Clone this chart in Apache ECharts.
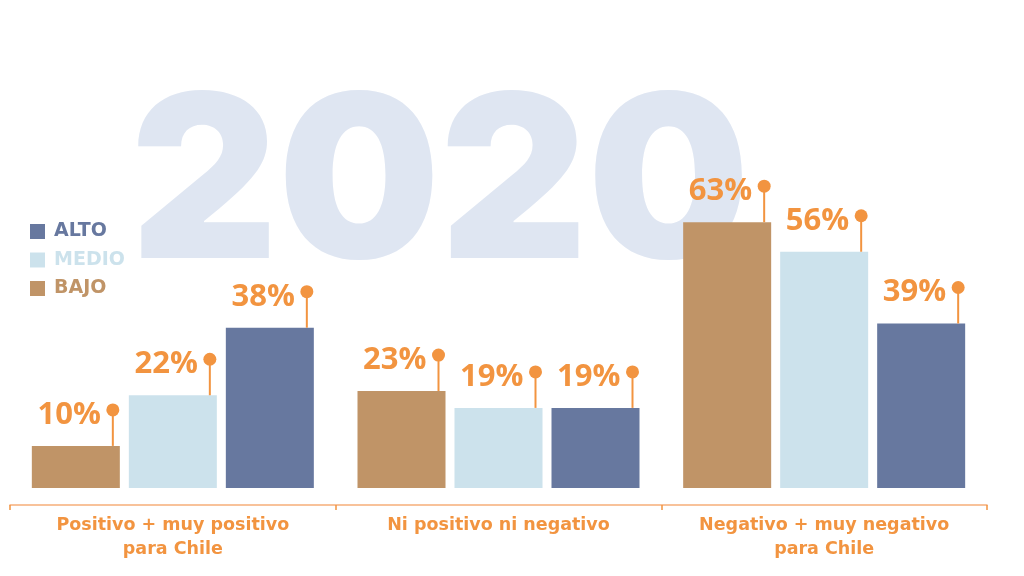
<!DOCTYPE html>
<html>
<head>
<meta charset="utf-8">
<script src="https://cdn.jsdelivr.net/npm/echarts@6/dist/echarts.min.js"></script>
<style>html,body{margin:0;padding:0;background:#fff;}#c{width:1024px;height:576px;}</style>
</head>
<body>
<div id="c"></div>
<script>
const categories = ['Positivo + muy positivo\npara Chile', 'Ni positivo ni negativo', 'Negativo + muy negativo\npara Chile'];
const bajo = [10, 23, 63];
const medio = [22, 19, 56];
const alto = [38, 19, 39];
const seriesNames = ['BAJO', 'MEDIO', 'ALTO'];
const colors = { BAJO: '#C09467', MEDIO: '#CCE2EC', ALTO: '#67789F' };
const orange = '#F29440';
const watermark = '2020';

const BAR_W = 88, GAP = 9;
const values = [bajo, medio, alto];

function pinSeries(idx) {
  return {
    type: 'custom',
    name: 'pin-' + seriesNames[idx],
    z: 5,
    data: values[idx].map((v, i) => [i, v]),
    renderItem: function (params, api) {
      const p = api.coord([api.value(0), api.value(1)]);
      const offset = (idx - 1) * (BAR_W + GAP);
      const px = p[0] + offset + BAR_W / 2 - 7;
      const top = p[1];
      return {
        type: 'group',
        children: [
          { type: 'line', shape: { x1: px, y1: top, x2: px, y2: top - 34 }, style: { stroke: orange, lineWidth: 2 } },
          { type: 'circle', shape: { cx: px, cy: top - 36, r: 6.5 }, style: { fill: orange } },
          { type: 'text', style: { x: px - 12, y: top - 31, text: api.value(1) + '%', align: 'right', verticalAlign: 'middle',
            fill: orange, font: 'bold 31px "Open Sans", sans-serif' } }
        ]
      };
    }
  };
}

function render() {
  const chart = echarts.init(document.getElementById('c'));
  const option = {
    animation: false,
    backgroundColor: '#ffffff',
    graphic: [{
      type: 'text', z: -10,
      style: { x: 440, y: 189, text: watermark, align: 'center', verticalAlign: 'middle',
        fill: '#DFE6F2', font: '900 228px Inter, sans-serif' }
    }],
    legend: {
      orient: 'vertical', left: 30, top: 222, padding: 0, itemWidth: 15, itemHeight: 15, itemGap: 9.5,
      icon: 'rect',
      data: [
        { name: 'ALTO', textStyle: { color: colors.ALTO } },
        { name: 'MEDIO', textStyle: { color: colors.MEDIO } },
        { name: 'BAJO', textStyle: { color: colors.BAJO } }
      ],
      textStyle: { fontSize: 19, fontWeight: 'bold', fontFamily: 'DejaVu Sans', padding: [0, 0, 0, 4] }
    },
    grid: { left: 10, right: 37, top: 66, bottom: 71, containLabel: false },
    xAxis: {
      type: 'category', data: categories,
      axisLine: { onZero: false, lineStyle: { color: '#F6AE7A', width: 1.5 } },
      axisTick: { show: true, length: 5, lineStyle: { color: '#F29440', width: 1.5 } },
      axisLabel: { color: orange, fontSize: 17.5, fontWeight: 'bold', fontFamily: 'DejaVu Sans', lineHeight: 24, margin: 8 }
    },
    yAxis: { type: 'value', min: -4, max: 100, show: false, splitLine: { show: false } },
    series: [
      ...seriesNames.map((n, i) => ({
        type: 'bar', name: n, data: values[i], barWidth: BAR_W, barGap: (GAP / BAR_W * 100) + '%',
        itemStyle: { color: colors[n] }, z: 3
      })),
      pinSeries(0), pinSeries(1), pinSeries(2)
    ]
  };
  chart.setOption(option);
}

let done = false;
function go() { if (!done) { done = true; render(); } }
if (document.fonts && document.fonts.load) {
  Promise.all([
    document.fonts.load('900 228px Inter'),
    document.fonts.load('bold 31px "Open Sans"'),
    document.fonts.load('bold 19px "DejaVu Sans"')
  ]).then(go, go);
  setTimeout(go, 800);
} else {
  go();
}
</script>
</body>
</html>
